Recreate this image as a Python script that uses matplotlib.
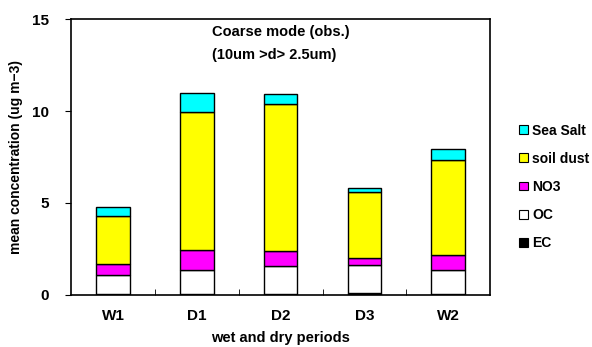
import matplotlib.pyplot as plt
import numpy as np
from matplotlib.patches import Patch

# data
periods = ['W1', 'D1', 'D2', 'D3', 'W2']
ec = [0.05, 0.06, 0.06, 0.09, 0.05]
oc = [1.04, 1.28, 1.53, 1.52, 1.31]
no3 = [0.58, 1.12, 0.78, 0.40, 0.81]
soil_dust = [2.64, 7.49, 8.03, 3.57, 5.17]
sea_salt = [0.46, 1.05, 0.55, 0.22, 0.58]

layers = [('EC', ec, 'black'),
          ('OC', oc, 'white'),
          ('NO3', no3, '#ff00ff'),
          ('soil dust', soil_dust, '#ffff00'),
          ('Sea Salt', sea_salt, '#00ffff')]

plt.rcParams['font.family'] = ['Liberation Sans', 'DejaVu Sans']
plt.rcParams['font.weight'] = 'bold'

fig = plt.figure(figsize=(5.92, 3.47), dpi=100)
ax = fig.add_axes([0.12, 0.15, 0.708, 0.795])

x = np.arange(len(periods))
bottom = np.zeros(len(periods))
for name, vals, col in layers:
    ax.bar(x, vals, 0.4, bottom=bottom, color=col, edgecolor='black', linewidth=1.0)
    bottom += np.array(vals)

ax.set_xlim(-0.5, 4.5)
ax.set_ylim(0, 15)
ax.set_yticks([0, 5, 10, 15])
ax.set_xticks(x)
ax.set_xticklabels(periods)
ax.set_xticks(np.arange(0.5, 4.5, 1), minor=True)
ax.tick_params(axis='x', which='major', length=0, pad=10, labelsize=11)
ax.tick_params(axis='x', which='minor', direction='in', length=4)
ax.tick_params(axis='y', direction='out', length=4, labelsize=11, pad=12)
for s in ax.spines.values():
    s.set_linewidth(1.2)

ax.set_xlabel('wet and dry periods', fontsize=10.5, fontweight='bold', labelpad=6)
ax.set_ylabel('mean concentration (ug m\u22123)', fontsize=10, fontweight='bold', labelpad=6)

ax.text(0.336, 0.953, 'Coarse mode (obs.)', transform=ax.transAxes,
        ha='left', va='center', fontsize=10.5, fontweight='bold')
ax.text(0.336, 0.87, '(10um >d> 2.5um)', transform=ax.transAxes,
        ha='left', va='center', fontsize=10.5, fontweight='bold')

handles = [Patch(facecolor=col, edgecolor='black', linewidth=0.8, label=name)
           for name, vals, col in reversed(layers)]
fig.legend(handles=handles, loc='upper left', bbox_to_anchor=(0.868, 0.66),
           frameon=False, fontsize=10, handlelength=0.6, handleheight=0.6,
           handletextpad=0.3, labelspacing=1.02, borderaxespad=0)

fig.savefig('out.png', dpi=100)
